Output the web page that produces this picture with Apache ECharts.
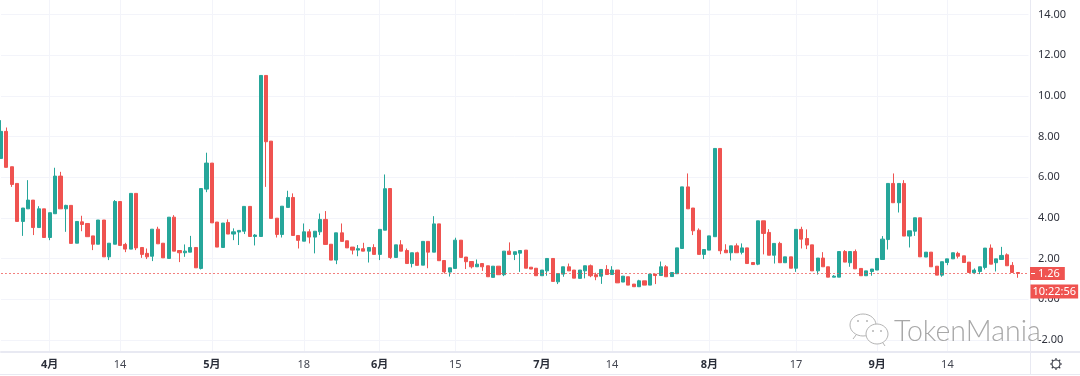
<!DOCTYPE html>
<html>
<head>
<meta charset="utf-8">
<title>K线图</title>
<style>
    html, body { margin: 0; padding: 0; background: #fff; }
    /* 原图是放大过的截图，有点糊 */
    #main { width: 1080px; height: 376px; filter: blur(0.4px); }
</style>
<script src="https://cdn.jsdelivr.net/npm/echarts@6/dist/echarts.min.js"></script>
</head>
<body>
<div id="main"></div>
<script type="text/javascript">
    // 数值从图上读出来的，[0]是3月23日
    var opens = [6.92,8.25,6.51,5.69,3.82,4.44,4.87,3.52,4.44,3.03,4.20,6.05,4.44,4.61,2.75,3.80,3.72,3.11,2.70,3.89,
        2.08,2.70,4.80,2.69,2.46,5.20,2.54,2.25,2.11,3.44,2.75,2.00,4.03,2.39,2.28,2.31,2.54,1.51,5.41,6.69,
        3.79,2.54,3.77,3.20,3.30,3.34,4.56,3.08,3.08,11.00,7.77,3.98,3.18,4.51,5.00,3.13,2.85,3.31,3.05,3.31,
        3.92,2.70,1.92,3.26,2.87,2.56,2.41,2.48,2.36,2.54,2.20,3.39,5.44,2.05,2.67,2.39,1.75,2.28,1.67,2.84,
        2.31,3.70,1.90,1.33,1.51,2.90,2.07,1.85,1.59,1.75,1.64,1.07,1.62,1.20,2.36,2.20,2.26,2.41,1.57,1.52,
        1.15,1.39,2.00,0.85,1.23,1.59,1.43,1.02,1.39,1.64,1.20,1.13,1.46,1.21,1.43,0.84,1.10,0.74,0.61,0.90,
        0.69,1.23,1.16,1.59,1.11,1.25,2.49,5.52,4.48,3.39,2.20,2.41,3.07,7.41,2.41,2.28,2.62,2.30,2.52,1.80,
        1.72,3.85,3.28,2.16,2.74,1.79,2.08,1.52,3.43,2.98,2.67,1.39,2.02,1.59,1.08,1.08,2.34,1.79,2.34,1.51,
        1.15,1.36,1.43,1.95,2.93,5.69,4.74,5.69,3.10,3.34,4.00,2.07,2.31,1.62,1.18,1.80,1.98,2.25,2.13,1.82,
        1.30,1.36,1.56,2.51,1.79,1.95,2.18,1.66,1.31];
    var closes = [8.25,6.48,5.64,3.82,4.48,4.87,3.52,4.44,3.03,4.25,6.05,4.44,4.61,2.74,3.82,3.67,3.07,2.70,3.89,2.08,
        2.75,4.80,2.64,2.46,5.20,2.52,2.20,2.08,3.44,2.72,2.03,4.03,2.36,2.28,2.36,2.54,1.54,5.44,6.69,3.75,
        2.56,3.74,3.20,3.31,3.38,4.56,3.08,3.15,11.00,7.74,3.97,3.18,4.57,5.00,3.13,2.89,3.31,3.05,3.34,3.92,
        2.69,1.92,3.26,2.84,2.52,2.41,2.48,2.36,2.54,2.20,3.43,5.43,2.05,2.67,2.36,1.75,2.28,1.66,2.84,2.31,
        3.70,1.89,1.34,1.54,2.90,2.05,1.84,1.59,1.72,1.59,1.10,1.62,1.20,2.36,2.20,2.33,2.39,1.52,1.48,1.15,
        1.43,2.00,0.87,1.26,1.59,1.39,1.03,1.43,1.64,1.15,1.10,1.46,1.21,1.43,0.80,1.13,0.69,0.61,0.90,0.69,
        1.23,1.16,1.59,1.10,1.31,2.52,5.52,4.44,3.36,2.20,2.44,3.11,7.41,2.38,2.28,2.62,2.28,2.52,1.75,1.70,
        3.85,3.23,2.16,2.74,1.79,2.08,1.52,3.43,2.95,2.66,1.39,2.02,1.59,1.08,1.13,2.34,1.82,2.34,1.49,1.15,
        1.39,1.48,2.00,2.95,5.69,4.74,5.69,3.10,3.36,4.00,2.08,2.31,1.59,1.18,1.84,1.98,2.28,2.11,1.80,1.31,
        1.43,1.59,2.51,1.72,1.98,2.15,1.64,1.31,1.26];
    var lows = [6.92,6.48,5.52,3.82,3.11,4.44,3.15,3.52,3.03,2.90,4.20,4.44,3.31,2.74,2.75,3.34,3.07,2.41,2.70,2.08,
        1.92,2.70,2.64,2.31,2.46,2.41,2.03,1.97,1.87,2.72,2.03,2.00,2.36,1.82,2.08,2.31,1.54,1.46,5.26,3.75,
        2.56,2.54,3.20,2.90,2.66,3.20,3.08,2.64,3.08,5.52,3.97,3.03,3.03,4.51,3.13,2.49,2.85,2.74,2.25,3.15,
        2.69,1.92,1.72,2.84,2.52,2.20,2.11,2.36,1.80,2.20,1.92,3.39,1.98,2.05,2.36,1.75,1.56,1.66,1.67,1.52,
        2.31,1.89,1.26,1.11,1.51,2.05,1.48,1.51,1.59,1.39,1.10,1.07,1.20,1.13,2.20,1.92,1.34,1.52,1.48,1.15,
        1.15,1.15,0.87,0.74,1.10,1.39,1.03,1.02,1.02,1.08,0.93,0.75,1.21,1.21,0.80,0.84,0.69,0.61,0.61,0.69,
        0.69,0.74,1.16,1.10,1.11,1.25,2.49,4.44,3.15,2.20,1.97,2.41,3.07,2.21,2.28,1.90,2.28,2.20,1.75,1.70,
        1.67,2.20,2.16,1.75,1.79,1.79,1.52,1.34,2.49,2.46,1.39,1.21,1.59,1.08,1.08,1.08,1.82,1.59,1.49,1.15,
        1.15,1.15,1.43,1.95,2.44,4.74,4.26,3.10,2.54,3.11,2.08,2.07,1.59,1.18,1.10,1.67,1.98,2.00,1.80,1.31,
        1.23,1.23,1.46,1.72,1.36,1.95,1.64,1.31,1.05];
    var highs = [8.80,8.44,6.51,5.69,4.48,5.85,4.87,4.57,4.44,4.25,6.46,6.26,4.64,4.61,3.82,4.10,3.72,3.11,3.89,3.89,
        2.75,4.87,4.80,2.77,5.20,5.20,2.54,2.49,3.44,3.56,2.75,4.03,4.13,2.39,2.69,3.11,2.54,5.44,7.20,6.69,
        3.79,3.74,3.92,3.48,3.38,4.56,4.56,3.20,11.00,11.00,7.77,3.98,4.57,5.33,5.20,3.13,3.72,3.44,3.34,4.21,
        4.33,2.70,3.26,3.72,2.87,2.56,2.66,2.77,2.54,2.70,3.43,6.13,5.44,2.67,2.90,2.49,2.28,2.33,2.84,2.84,
        4.08,3.70,1.90,1.54,3.02,2.90,2.07,1.85,1.95,1.75,1.64,1.62,1.62,2.36,2.79,2.33,2.39,2.41,1.57,1.52,
        1.43,2.00,2.00,1.26,1.59,1.75,1.43,1.43,1.64,1.70,1.30,1.46,1.67,1.62,1.43,1.13,1.10,0.74,0.95,0.90,
        1.23,1.23,1.85,1.67,1.31,2.52,5.52,6.18,4.48,3.48,2.44,3.11,7.41,7.41,2.70,2.62,2.74,2.74,2.52,1.80,
        3.85,3.85,3.44,2.74,2.82,2.08,2.08,3.43,3.56,3.43,2.67,2.02,2.31,1.59,1.18,2.34,2.41,2.34,2.44,1.51,
        1.39,1.48,2.00,3.10,5.69,6.18,5.69,5.85,3.36,4.00,4.00,2.31,2.31,1.62,1.84,1.98,2.28,2.33,2.13,1.82,
        1.51,1.59,2.51,2.69,1.98,2.57,2.25,1.82,1.31];
    var yTicks = [-2, 0, 2, 4, 6, 8, 10, 12, 14];
    var tickDates = ['4-1', '4-14', '5-1', '5-18', '6-1', '6-15', '7-1', '7-14', '8-1', '8-17', '9-1', '9-14'];
    var tickTexts = ['4月', '14', '5月', '18', '6月', '15', '7月', '14', '8月', '17', '9月', '14'];
    var lastPrice = 1.26;
    var countdown = '10:22:56';

    var monthDays = {3: 31, 4: 30, 5: 31, 6: 30, 7: 31, 8: 31, 9: 30, 10: 31};
    var categories = [];
    var m = 3, d = 23;
    // 比数据多两格，右边留空
    for (var i = 0; i < opens.length + 2; i++) {
        categories.push(m + '-' + d);
        d++;
        if (d > monthDays[m]) { m++; d = 1; }
    }

    var candles = opens.map(function (o, i) {
        return [o, closes[i], lows[i], highs[i]];
    });
    var priceLine = categories.map(function () { return lastPrice; });

    var fontName = '"Noto Sans", "Noto Sans CJK SC", sans-serif';
    var lineColor = '#e8e9f2';
    var gridColor = '#f3f4fa';
    var red = '#ef5350';
    var green = '#26a69a';
    var wmColor = '#b4b4b4';

    function isTick(index, value) {
        return tickDates.indexOf(value) >= 0;
    }

    // 右下角的小齿轮
    var gear = [{
        type: 'circle',
        shape: {cx: 1056, cy: 364, r: 4},
        style: {fill: 'none', stroke: '#3c3f4a', lineWidth: 1.2}
    }];
    for (var k = 0; k < 8; k++) {
        var a = k * Math.PI / 4;
        gear.push({
            type: 'line',
            shape: {
                x1: 1056 + 4 * Math.cos(a), y1: 364 + 4 * Math.sin(a),
                x2: 1056 + 6 * Math.cos(a), y2: 364 + 6 * Math.sin(a)
            },
            style: {stroke: '#3c3f4a', lineWidth: 1.2}
        });
    }

    var mainChart = echarts.init(document.getElementById('main'), null, {renderer: 'canvas'});

    var mainOption = {
        animation: false,
        backgroundColor: '#fff',
        grid: {left: 1, top: 0, width: 1027.5, height: 352},
        xAxis: {
            type: 'category',
            data: categories,
            boundaryGap: false,
            axisLine: {onZero: false, lineStyle: {color: lineColor, width: 2}},
            axisTick: {show: false},
            axisLabel: {
                interval: isTick,
                hideOverlap: false,
                margin: 7,
                formatter: function (value) {
                    var t = tickTexts[tickDates.indexOf(value)];
                    return t.indexOf('月') >= 0 ? '{mon|' + t + '}' : '{day|' + t + '}';
                },
                rich: {
                    mon: {fontFamily: fontName, fontSize: 11, fontWeight: 'bold', color: '#2a2e39'},
                    day: {fontFamily: fontName, fontSize: 11, color: '#434651'}
                }
            },
            splitLine: {
                show: true,
                interval: isTick,
                lineStyle: {color: gridColor, width: 1}
            }
        },
        yAxis: {
            type: 'value',
            position: 'right',
            offset: 1.5,
            min: -2.6,
            max: 14.71,
            axisLine: {show: true, lineStyle: {color: lineColor, width: 1}},
            axisTick: {show: false, customValues: yTicks},
            axisLabel: {
                customValues: yTicks,
                margin: 8,
                fontFamily: fontName,
                fontSize: 11,
                color: '#2f323d',
                formatter: function (v) { return v.toFixed(2); }
            },
            splitLine: {show: true, lineStyle: {color: gridColor, width: 1}}
        },
        series: [{
            type: 'candlestick',
            data: candles,
            barWidth: 3.6,
            clip: false,
            itemStyle: {
                color: green,
                color0: red,
                borderColor: green,
                borderColor0: red,
                borderWidth: 1
            }
        }, {
            // 现价虚线和右边两个标签
            type: 'line',
            data: priceLine,
            symbol: 'none',
            silent: true,
            lineStyle: {type: [2, 2], color: red, width: 1, opacity: 0.75},
            markLine: {
                silent: true,
                symbol: 'none',
                animation: false,
                lineStyle: {color: '#fff', width: 0, opacity: 0},
                data: [{
                    yAxis: lastPrice,
                    label: {
                        show: true,
                        opacity: 1,
                        position: 'end',
                        distance: 1.5,
                        formatter: lastPrice.toFixed(2),
                        backgroundColor: red,
                        color: '#fff',
                        fontFamily: fontName,
                        fontSize: 11,
                        padding: [1, 5, 1, 8]
                    }
                }, {
                    yAxis: lastPrice,
                    label: {
                        show: true,
                        opacity: 1,
                        position: 'end',
                        distance: 2,
                        offset: [0, 18],
                        formatter: countdown,
                        backgroundColor: red,
                        color: '#fff',
                        fontFamily: fontName,
                        fontSize: 11,
                        padding: [1, 2, 2, 2]
                    }
                }]
            }
        }],
        graphic: [
            // 坐标轴下面那一段边框
            {type: 'line', z: 50, shape: {x1: 1030.5, y1: 352, x2: 1030.5, y2: 374}, style: {stroke: lineColor, lineWidth: 1}},
            {type: 'line', z: 50, shape: {x1: 1029, y1: 352, x2: 1080, y2: 352}, style: {stroke: lineColor, lineWidth: 2}},
            {type: 'line', z: 50, shape: {x1: 0, y1: 374.5, x2: 1080, y2: 374.5}, style: {stroke: lineColor, lineWidth: 1}},
            {type: 'group', z: 50, children: gear},
            // 水印
            {type: 'ellipse', z: 60, shape: {cx: 863, cy: 325, rx: 13, ry: 11}, style: {fill: '#fff', stroke: wmColor, lineWidth: 1}},
            {type: 'line', z: 60, shape: {x1: 856, y1: 335, x2: 853, y2: 339}, style: {stroke: wmColor, lineWidth: 1}},
            {type: 'circle', z: 60, shape: {cx: 858, cy: 321, r: 1}, style: {fill: wmColor}},
            {type: 'circle', z: 60, shape: {cx: 867, cy: 321, r: 1}, style: {fill: wmColor}},
            {type: 'ellipse', z: 61, shape: {cx: 877, cy: 334, rx: 11, ry: 10}, style: {fill: '#fff', stroke: wmColor, lineWidth: 1}},
            {type: 'line', z: 61, shape: {x1: 883, y1: 343, x2: 885, y2: 346}, style: {stroke: wmColor, lineWidth: 1}},
            {type: 'circle', z: 61, shape: {cx: 873, cy: 331, r: 1}, style: {fill: wmColor}},
            {type: 'circle', z: 61, shape: {cx: 881, cy: 331, r: 1}, style: {fill: wmColor}},
            {
                type: 'text',
                z: 60,
                x: 894,
                y: 332,
                style: {
                    text: 'TokenMania',
                    font: '300 28.5px Lato, "Liberation Sans", sans-serif',
                    fill: '#a8a8a8',
                    textVerticalAlign: 'middle'
                }
            }
        ]
    };
    mainChart.setOption(mainOption);

    // 价格标签左边那个小白刻度
    var priceY = mainChart.convertToPixel({yAxisIndex: 0}, lastPrice);
    mainOption.graphic.push({
        type: 'line',
        z: 70,
        shape: {x1: 1031, y1: priceY, x2: 1035, y2: priceY},
        style: {stroke: '#fff', lineWidth: 1}
    });
    mainChart.setOption({graphic: mainOption.graphic});
</script>
</body>
</html>
